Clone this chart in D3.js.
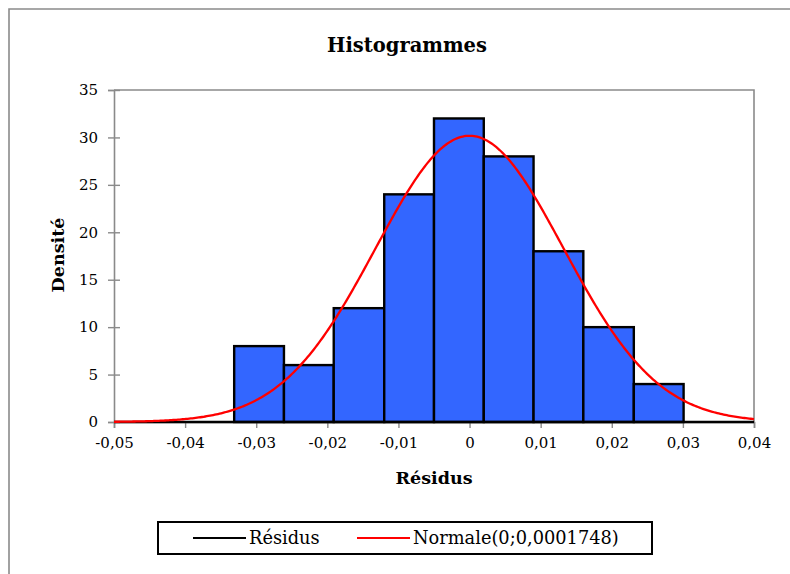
<!DOCTYPE html>
<html>
<head>
<meta charset="utf-8">
<script src="https://cdn.jsdelivr.net/npm/d3@7/dist/d3.min.js"></script>
<style>
  html, body { margin: 0; padding: 0; background: #fff; }
  svg { display: block; }
  text { font-family: "DejaVu Serif", "Liberation Serif", serif; fill: #000; }
</style>
</head>
<body>
<svg id="chart" width="790" height="574"></svg>
<script>
// Histogram of residuals: bin edges and density of each bin
const binEdges = [-0.0331, -0.0261, -0.0191, -0.0120, -0.0050, 0.0020, 0.0090, 0.0160, 0.0231, 0.0301];
const densities = [8, 6, 12, 24, 32, 28, 18, 10, 4];

// Fitted normal distribution: Normale(mean; variance)
const normalMean = 0;
const normalVariance = 0.0001748;

// Axis ticks
const xTicks = [-0.05, -0.04, -0.03, -0.02, -0.01, 0, 0.01, 0.02, 0.03, 0.04];
const yTicks = [0, 5, 10, 15, 20, 25, 30, 35];

const svg = d3.select("#chart");
const W = 790, H = 574;
const plot = { left: 114, right: 754, top: 90, bottom: 422 };

const x = d3.scaleLinear().domain([-0.05, 0.04]).range([plot.left, plot.right]);
const y = d3.scaleLinear().domain([0, 35]).range([plot.bottom, plot.top]);

const axisGrey = "#8a8a8a";
const fmt = v => (v === 0 ? "0" : d3.format(".2f")(v).replace(".", ",").replace("−", "-"));

// Outer chart frame
svg.append("path")
  .attr("d", `M9,${H + 5} L9,9 L${W + 5},9`)
  .attr("fill", "none").attr("stroke", axisGrey).attr("stroke-width", 1.6);

// Title
svg.append("text")
  .attr("x", 407).attr("y", 52)
  .attr("text-anchor", "middle")
  .attr("font-size", 19.5).attr("font-weight", "bold")
  .text("Histogrammes");

// Plot area border (top and right)
svg.append("path")
  .attr("d", `M${plot.left},${plot.top} L${plot.right},${plot.top} L${plot.right},${plot.bottom}`)
  .attr("fill", "none").attr("stroke", axisGrey).attr("stroke-width", 1.6);

// Y axis
const yAxis = svg.append("g")
  .attr("transform", `translate(${plot.left},0)`)
  .call(d3.axisLeft(y).tickValues(yTicks).tickSize(6).tickPadding(10).tickFormat(d => d));
yAxis.select(".domain").attr("stroke", axisGrey).attr("stroke-width", 1.6);
yAxis.selectAll(".tick line").attr("stroke", axisGrey).attr("stroke-width", 1.4).attr("x2", -6).attr("x1", 6);
yAxis.selectAll(".tick text").attr("font-size", 15).attr("font-family", "DejaVu Serif").attr("fill", "#000");

// X axis
const xAxis = svg.append("g")
  .attr("transform", `translate(0,${plot.bottom})`)
  .call(d3.axisBottom(x).tickValues(xTicks).tickSize(6).tickPadding(9).tickFormat(fmt));
xAxis.select(".domain").attr("stroke", axisGrey).attr("stroke-width", 1.6);
xAxis.selectAll(".tick line").attr("stroke", axisGrey).attr("stroke-width", 1.4);
xAxis.selectAll(".tick text").attr("font-size", 15).attr("font-family", "DejaVu Serif").attr("fill", "#000");

// Histogram bars
const bins = densities.map((d, i) => ({ x0: binEdges[i], x1: binEdges[i + 1], d }));
svg.append("g").selectAll("rect")
  .data(bins)
  .join("rect")
  .attr("x", b => x(b.x0))
  .attr("y", b => y(b.d))
  .attr("width", b => x(b.x1) - x(b.x0))
  .attr("height", b => y(0) - y(b.d))
  .attr("fill", "#3366ff")
  .attr("stroke", "#000")
  .attr("stroke-width", 2.4);

// Residual series baseline
svg.append("line")
  .attr("x1", x(-0.05)).attr("x2", x(0.04))
  .attr("y1", y(0)).attr("y2", y(0))
  .attr("stroke", "#000").attr("stroke-width", 2.4);

// Normal density curve
const sd = Math.sqrt(normalVariance);
const pdf = v => Math.exp(-0.5 * ((v - normalMean) / sd) ** 2) / (sd * Math.sqrt(2 * Math.PI));
const curvePts = d3.range(0, 401).map(i => {
  const v = -0.05 + i * (0.09 / 400);
  return [v, pdf(v)];
});
svg.append("path")
  .datum(curvePts)
  .attr("d", d3.line().x(p => x(p[0])).y(p => y(p[1])))
  .attr("fill", "none")
  .attr("stroke", "#ff0000")
  .attr("stroke-width", 2.3);

// Axis titles
svg.append("text")
  .attr("x", 434).attr("y", 484)
  .attr("text-anchor", "middle")
  .attr("font-size", 17.5).attr("font-weight", "bold")
  .text("Résidus");

svg.append("text")
  .attr("transform", `translate(64,${(plot.top + plot.bottom) / 2 - 1}) rotate(-90)`)
  .attr("text-anchor", "middle")
  .attr("font-size", 17.5).attr("font-weight", "bold")
  .text("Densité");

// Legend
const legend = svg.append("g");
legend.append("rect")
  .attr("x", 158).attr("y", 522).attr("width", 494).attr("height", 32)
  .attr("fill", "#fff").attr("stroke", "#000").attr("stroke-width", 2);
const legendItems = [
  { label: "Résidus", color: "#000", x0: 193 },
  { label: "Normale(0;0,0001748)", color: "#ff0000", x0: 357 }
];
legendItems.forEach(it => {
  legend.append("line")
    .attr("x1", it.x0).attr("x2", it.x0 + 53)
    .attr("y1", 538).attr("y2", 538)
    .attr("stroke", it.color).attr("stroke-width", 2);
  legend.append("text")
    .attr("x", it.x0 + 56).attr("y", 544)
    .attr("font-size", 17.8)
    .text(it.label);
});
</script>
</body>
</html>
